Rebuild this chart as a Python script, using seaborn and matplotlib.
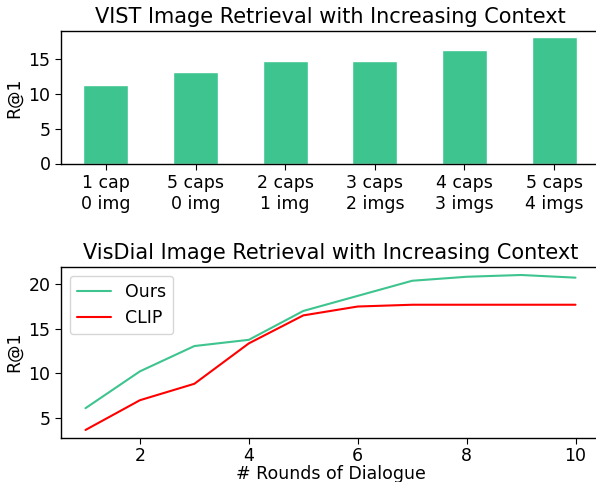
import numpy as np
import pandas as pd
import matplotlib
matplotlib.use("Agg")
import matplotlib.pyplot as plt
import seaborn as sns

# VIST bars
vist_labels = ['1 cap\n0 img', '5 caps\n0 img', '2 caps\n1 img',
               '3 caps\n2 imgs', '4 caps\n3 imgs', '5 caps\n4 imgs']
vist_r1 = [11.3, 13.2, 14.8, 14.8, 16.4, 18.2]

# VisDial lines
rounds = [1, 2, 3, 4, 5, 6, 7, 8, 9, 10]
ours_r1 = [6.05, 10.2, 13.05, 13.75, 17.0, 18.7, 20.4, 20.85, 21.05, 20.75]
clip_r1 = [3.6, 6.95, 8.8, 13.35, 16.5, 17.5, 17.7, 17.7, 17.7, 17.7]

green = '#3ec48f'

sns.set_style('ticks', {'axes.edgecolor': 'black', 'text.color': 'black',
                        'axes.labelcolor': 'black', 'xtick.color': 'black',
                        'ytick.color': 'black'})
plt.rcParams['font.family'] = ['DejaVu Sans']

W, H = 596, 482
fig = plt.figure(figsize=(W / 100, H / 100), dpi=100)

def px_axes(left, top, right, bottom):
    return fig.add_axes([left / W, 1 - bottom / H, (right - left) / W, (bottom - top) / H])

# right edges sit just past the canvas, as in the reference
ax1 = px_axes(61, 31, 599, 163.5)
df_vist = pd.DataFrame({'setting': vist_labels, 'r1': vist_r1})
sns.barplot(data=df_vist, x='setting', y='r1', color=green, width=0.5,
            saturation=1, ax=ax1)
ax1.set_xlim(-0.5, 5.5)
ax1.set_ylim(0, max(vist_r1) * 1.05)
ax1.set_yticks([0, 5, 10, 15])
ax1.set_title('VIST Image Retrieval with Increasing Context', fontsize=15)
ax1.set_xlabel('')
ax1.set_ylabel('R@1', fontsize=12.5)
ax1.tick_params(labelsize=12.5, length=4)

ax2 = px_axes(61, 267, 600, 437.5)
df_vd = pd.DataFrame({'round': rounds * 2,
                      'r1': ours_r1 + clip_r1,
                      'model': ['Ours'] * len(rounds) + ['CLIP'] * len(rounds)})
sns.lineplot(data=df_vd, x='round', y='r1', hue='model',
             palette={'Ours': green, 'CLIP': 'red'}, linewidth=1.5, ax=ax2)
ax2.set_xlim(0.55, 10.45)
ax2.set_ylim(2.75, 21.95)
ax2.set_xticks([2, 4, 6, 8, 10])
ax2.set_yticks([5, 10, 15, 20])
ax2.set_title('VisDial Image Retrieval with Increasing Context', fontsize=15)
ax2.set_xlabel('# Rounds of Dialogue', fontsize=12.5, labelpad=0)
ax2.set_ylabel('R@1', fontsize=12.5)
ax2.tick_params(labelsize=12.5, length=4)
ax2.tick_params(axis='x', pad=2.5)
ax2.legend(title=None, fontsize=12.5, loc='upper left')

for ax in (ax1, ax2):
    for s in ax.spines.values():
        s.set_linewidth(1.0)
    ax.spines['right'].set_visible(False)

fig.savefig('out.png', dpi=100)
